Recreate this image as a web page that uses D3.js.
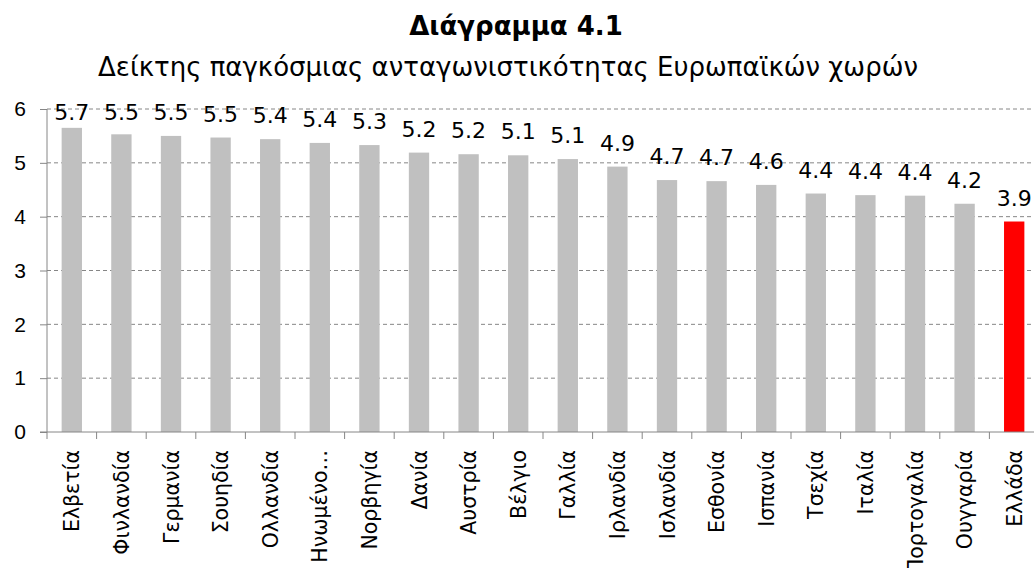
<!DOCTYPE html>
<html>
<head>
<meta charset="utf-8">
<script src="https://cdn.jsdelivr.net/npm/d3@7.9.0/dist/d3.min.js"></script>
<style>
  body { margin: 0; background: #fff; overflow: hidden; }
  svg { display: block; font-family: "DejaVu Sans", sans-serif; }
</style>
</head>
<body>
<svg width="1034" height="568"></svg>
<script>
// data
const countries = ['Ελβετία', 'Φινλανδία', 'Γερμανία', 'Σουηδία', 'Ολλανδία', 'Ηνωμένο…',
  'Νορβηγία', 'Δανία', 'Αυστρία', 'Βέλγιο', 'Γαλλία', 'Ιρλανδία', 'Ισλανδία', 'Εσθονία',
  'Ισπανία', 'Τσεχία', 'Ιταλία', 'Πορτογαλία', 'Ουγγαρία', 'Ελλάδα'];
const values = [5.65, 5.53, 5.50, 5.47, 5.44, 5.37, 5.33, 5.19, 5.16, 5.14,
  5.07, 4.93, 4.68, 4.66, 4.59, 4.43, 4.40, 4.39, 4.24, 3.91];
const yTicks = [0, 1, 2, 3, 4, 5, 6];
const highlight = 'Ελλάδα';

const svg = d3.select('svg');
const plotLeft = 47, plotRight = 1039, plotTop = 109, plotBottom = 432;

const x = d3.scaleBand().domain(countries).range([plotLeft, plotRight]).paddingInner(0.59).paddingOuter(0.295);
const y = d3.scaleLinear().domain([0, 6]).range([plotBottom, plotTop]);

// titles
svg.append('text').attr('x', 516).attr('y', 35).attr('text-anchor', 'middle')
  .attr('font-weight', 'bold').attr('font-size', 26).text('Διάγραμμα 4.1');
svg.append('text').attr('x', 508).attr('y', 76).attr('text-anchor', 'middle')
  .attr('font-size', 26).text('Δείκτης παγκόσμιας ανταγωνιστικότητας Ευρωπαϊκών χωρών');

// gridlines
svg.append('g').selectAll('line').data(yTicks.filter(d => d > 0)).join('line')
  .attr('x1', plotLeft).attr('x2', 1034)
  .attr('y1', d => y(d)).attr('y2', d => y(d))
  .attr('stroke', '#868686').attr('stroke-dasharray', '4,3');

// bars
svg.append('g').selectAll('rect').data(countries).join('rect')
  .attr('x', d => x(d))
  .attr('width', x.bandwidth())
  .attr('y', (d, i) => y(values[i]))
  .attr('height', (d, i) => plotBottom - y(values[i]))
  .attr('fill', d => d === highlight ? '#ff0000' : '#c0c0c0');

// value labels
const fmt = d3.format('.1f');
svg.append('g').selectAll('text').data(countries).join('text')
  .attr('x', d => x(d) + x.bandwidth() / 2)
  .attr('y', (d, i) => Math.max(y(values[i]) - 16, 120))
  .attr('text-anchor', 'middle').attr('font-size', 22)
  .text((d, i) => fmt(values[i]));

// y axis
const yAxis = svg.append('g').attr('transform', `translate(${plotLeft},0)`)
  .call(d3.axisLeft(y).tickValues(yTicks).tickSize(7).tickPadding(14).tickFormat(d3.format('d')));
yAxis.selectAll('line, path').attr('stroke', '#868686');
yAxis.select('.domain').attr('d', `M0,${plotTop}V${plotBottom}`);
yAxis.selectAll('text').attr('font-size', 21).attr('fill', '#000').attr('font-family', null);

// x axis
const xAxis = svg.append('g').attr('transform', `translate(0,${plotBottom})`);
xAxis.append('line').attr('x1', plotLeft - 7).attr('x2', 1034).attr('stroke', '#868686');
const step = x.step();
xAxis.selectAll('line.tick').data(d3.range(countries.length + 1)).join('line')
  .attr('class', 'tick')
  .attr('x1', i => plotLeft + i * step).attr('x2', i => plotLeft + i * step)
  .attr('y1', 0).attr('y2', 7).attr('stroke', '#868686');
xAxis.selectAll('text').data(countries).join('text')
  .attr('transform', d => `translate(${x(d) + x.bandwidth() / 2 + 7.5},18) rotate(-90)`)
  .attr('text-anchor', 'end').attr('font-size', 20.5)
  .text(d => d);
</script>
</body>
</html>
